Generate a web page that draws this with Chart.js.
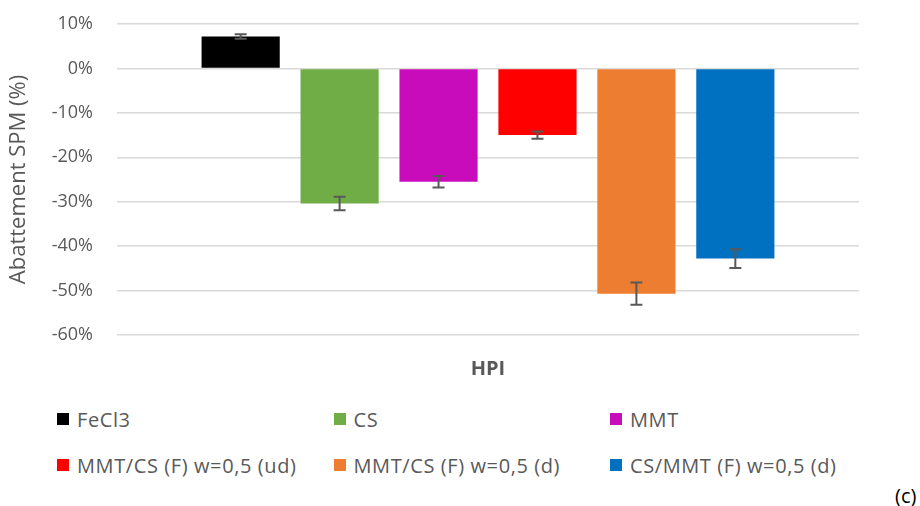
<!DOCTYPE html>
<html>
<head>
<meta charset="utf-8">
<script src="https://cdn.jsdelivr.net/npm/chart.js@4"></script>
<style>
  html, body { margin: 0; padding: 0; background: #fff; }
  #wrap { position: relative; width: 920px; height: 506px; font-family: "Open Sans", sans-serif; }
  #box { position: absolute; left: 0; top: 0; width: 920px; height: 390px; }
  #legend { position: absolute; left: 57px; top: 405px; display: grid;
            grid-template-columns: 276.5px 276.5px 276.5px; row-gap: 18px; }
  .item { display: flex; align-items: center; height: 28px; color: #595959;
          font-size: 20px; white-space: nowrap; letter-spacing: 0.6px; }
  .sw { width: 12px; height: 12px; margin-right: 8px; flex: none; }
  #tag { position: absolute; left: 895px; top: 482px; font-size: 20px; color: #000; }
</style>
</head>
<body>
<div id="wrap">
  <div id="box"><canvas id="c"></canvas></div>
  <div id="legend"></div>
  <div id="tag">(c)</div>
</div>
<script>
const categories = ['HPI'];
const seriesNames = ['FeCl3', 'CS', 'MMT', 'MMT/CS (F) w=0,5 (ud)', 'MMT/CS (F) w=0,5 (d)', 'CS/MMT (F) w=0,5 (d)'];
const seriesValues = [7.2, -30.4, -25.5, -15.0, -50.7, -42.8];
const seriesErrors = [0.5, 1.5, 1.3, 0.8, 2.5, 2.1];
const seriesColors = ['#000000', '#70AD47', '#C80CBB', '#FF0000', '#ED7D31', '#0070C0'];
const yTicks = [10, 0, -10, -20, -30, -40, -50, -60];

// error bars drawn from the y scale
const errorBars = {
  id: 'errorBars',
  afterDatasetsDraw(chart) {
    const ctx = chart.ctx;
    const y = chart.scales.y;
    ctx.save();
    ctx.strokeStyle = '#595959';
    ctx.lineWidth = 2;
    chart.data.datasets.forEach((ds, i) => {
      const bar = chart.getDatasetMeta(i).data[0];
      const v = ds.data[0], e = ds.err;
      const y1 = y.getPixelForValue(v + e), y2 = y.getPixelForValue(v - e);
      ctx.beginPath();
      ctx.moveTo(bar.x, y1); ctx.lineTo(bar.x, y2);
      ctx.moveTo(bar.x - 6, y1); ctx.lineTo(bar.x + 6, y1);
      ctx.moveTo(bar.x - 6, y2); ctx.lineTo(bar.x + 6, y2);
      ctx.stroke();
    });
    ctx.restore();
  }
};

const datasets = seriesNames.map((name, i) => ({
  label: name,
  data: [seriesValues[i]],
  err: seriesErrors[i],
  backgroundColor: seriesColors[i],
  categoryPercentage: 0.8,
  barPercentage: 0.79
}));

new Chart(document.getElementById('c'), {
  type: 'bar',
  data: { labels: categories, datasets: datasets },
  options: {
    responsive: true,
    maintainAspectRatio: false,
    animation: false,
    layout: { padding: { left: 0, right: 61, top: 24, bottom: 0 } },
    plugins: { legend: { display: false }, tooltip: { enabled: false } },
    scales: {
      x: {
        grid: { display: false, drawTicks: false },
        border: { display: false },
        ticks: { color: '#595959', padding: 22, font: { family: 'Open Sans', size: 20, weight: 'bold' } },
        afterFit(s) { s.height = 55; }
      },
      y: {
        min: -60, max: 10,
        afterBuildTicks(s) { s.ticks = yTicks.map(v => ({ value: v })); },
        grid: { color: '#d9d9d9', lineWidth: 1.5, drawTicks: false },
        border: { display: false },
        ticks: { color: '#595959', padding: 24, font: { family: 'Open Sans', size: 18 },
                 callback: v => v + '%' },
        title: { display: true, text: 'Abattement SPM (%)', color: '#595959',
                 padding: { top: 6, bottom: 0 }, font: { family: 'Open Sans', size: 22 } },
        afterFit(s) { s.width = 117; s.paddingTop = 10; s.paddingBottom = 10; }
      }
    }
  },
  plugins: [errorBars]
});

const legend = document.getElementById('legend');
seriesNames.forEach((name, i) => {
  const it = document.createElement('div');
  it.className = 'item';
  const sw = document.createElement('span');
  sw.className = 'sw';
  sw.style.background = seriesColors[i];
  it.appendChild(sw);
  it.appendChild(document.createTextNode(name));
  legend.appendChild(it);
});
</script>
</body>
</html>
